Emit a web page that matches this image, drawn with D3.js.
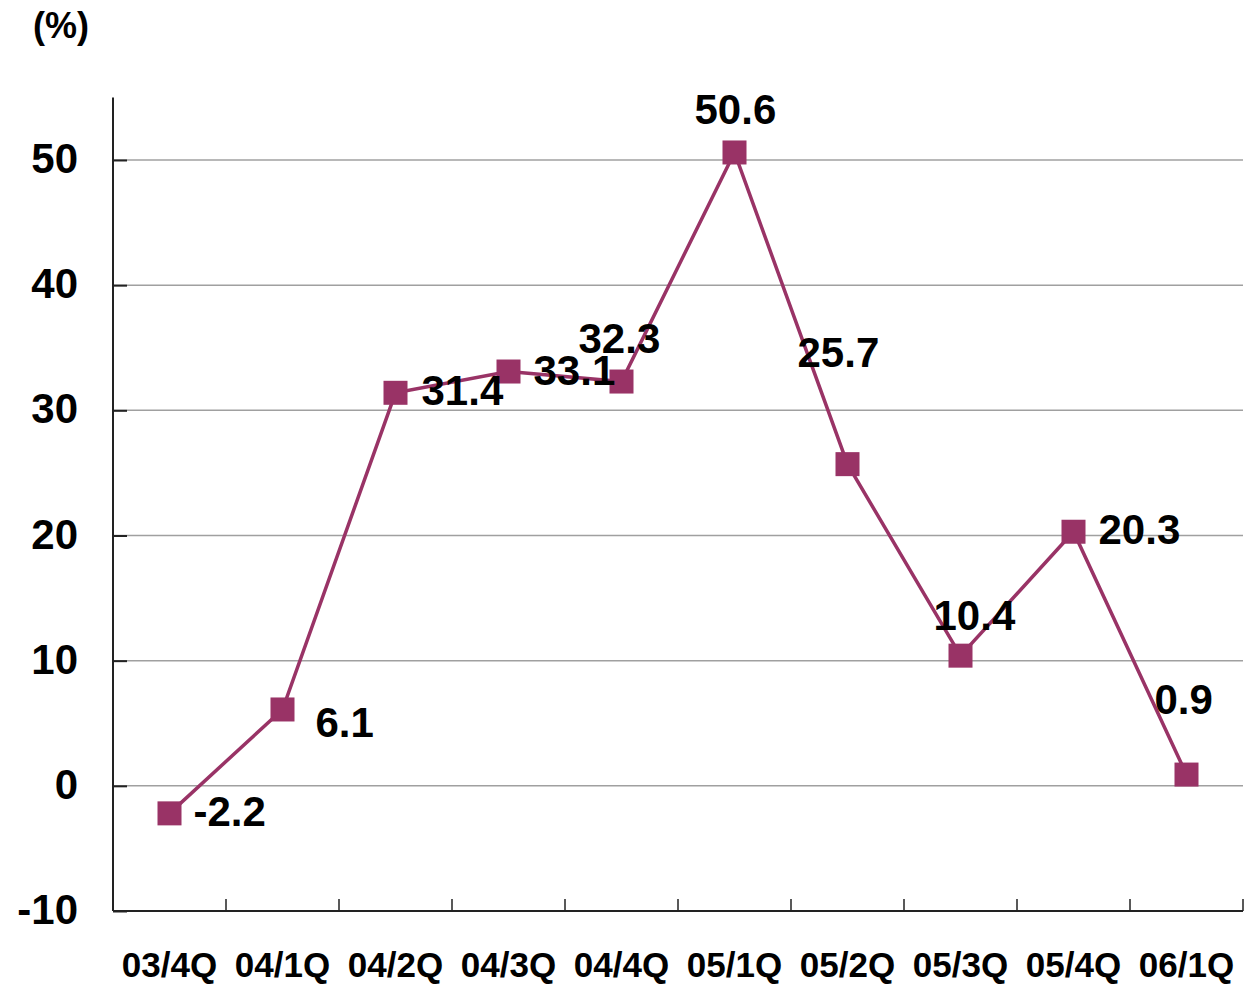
<!DOCTYPE html>
<html><head><meta charset="utf-8">
<script src="https://cdn.jsdelivr.net/npm/d3@7"></script>
<style>body{margin:0;background:#fff}svg{display:block;font-family:"Liberation Sans",Arial,sans-serif;font-weight:bold}</style>
</head><body><svg id="c" width="1252" height="987"></svg>
<script>
const categories = ["03/4Q","04/1Q","04/2Q","04/3Q","04/4Q","05/1Q","05/2Q","05/3Q","05/4Q","06/1Q"];
const values = [-2.2, 6.1, 31.4, 33.1, 32.3, 50.6, 25.7, 10.4, 20.3, 0.9];
const labels = ["-2.2","6.1","31.4","33.1","32.3","50.6","25.7","10.4","20.3","0.9"];
const yTicks = [-10, 0, 10, 20, 30, 40, 50];
const unitLabel = "(%)";
// label placement relative to marker (layout)
const labelOffsets = [[24,0],[33,15],[26,0],[25,1],[-43,-41],[-40,-41],[-50,-109],[-27,-38],[25,0],[-32,-73]];

const svg = d3.select("#c");
const x = d3.scaleBand().domain(categories).range([113, 1243]).padding(0);
const y = d3.scaleLinear().domain([-10, 55]).range([911, 97.4]);
const color = "#993366";

// gridlines
svg.append("g").selectAll("line").data(yTicks.filter(t => t > -10)).join("line")
  .attr("x1", 113).attr("x2", 1243).attr("y1", d => y(d)).attr("y2", d => y(d))
  .attr("stroke", "#a0a0a0").attr("stroke-width", 1.5);

// y axis
const ya = svg.append("g").attr("transform", "translate(113,0)")
  .call(d3.axisLeft(y).tickValues(yTicks).tickSize(-14).tickPadding(0).tickFormat(d => String(d)));
ya.select(".domain").attr("stroke", "#222").attr("stroke-width", 2);
ya.selectAll(".tick line").attr("stroke", "#222").attr("stroke-width", 2);
ya.selectAll(".tick text").attr("x", -35).attr("font-size", 42).attr("font-weight", "bold")
  .attr("font-family", "Liberation Sans, Arial, sans-serif").attr("fill", "#000").attr("dy", "0.3em");
ya.select(".domain").attr("d", `M0,${y(55)}V${y(-10)}`);

// x axis
const xa = svg.append("g").attr("transform", "translate(0,911)");
xa.append("line").attr("x1", 113).attr("x2", 1243).attr("y1", 0).attr("y2", 0).attr("stroke", "#222").attr("stroke-width", 2);
const bounds = categories.map(c => x(c)).concat([x(categories[categories.length-1]) + x.bandwidth()]);
xa.selectAll("line.t").data(bounds.slice(1)).join("line").attr("class", "t")
  .attr("x1", d => d).attr("x2", d => d).attr("y1", 0).attr("y2", -12).attr("stroke", "#222").attr("stroke-width", 1.5);
xa.selectAll("text").data(categories).join("text")
  .attr("x", d => x(d) + x.bandwidth() / 2).attr("y", 66).attr("text-anchor", "middle")
  .attr("font-size", 35).attr("fill", "#000").text(d => d);

// unit
svg.append("text").attr("x", 33).attr("y", 38).attr("font-size", 36).attr("fill", "#000").text(unitLabel);

// line
const cx = (d, i) => x(categories[i]) + x.bandwidth() / 2;
svg.append("path").datum(values)
  .attr("d", d3.line().x((d, i) => cx(d, i)).y(d => y(d)))
  .attr("fill", "none").attr("stroke", color).attr("stroke-width", 3.5);

// markers
const ms = 24;
svg.append("g").selectAll("rect").data(values).join("rect")
  .attr("x", (d, i) => cx(d, i) - ms / 2).attr("y", d => y(d) - ms / 2)
  .attr("width", ms).attr("height", ms).attr("fill", color);

// data labels
svg.append("g").selectAll("text").data(values).join("text")
  .attr("x", (d, i) => cx(d, i) + labelOffsets[i][0])
  .attr("y", (d, i) => y(d) + labelOffsets[i][1])
  .attr("dy", "0.29em").attr("font-size", 42).attr("fill", "#000")
  .text((d, i) => labels[i]);
</script></body></html>
